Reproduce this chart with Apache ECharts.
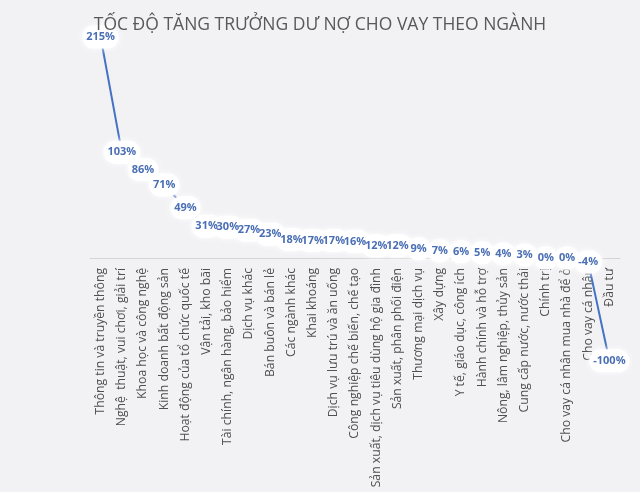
<!DOCTYPE html>
<html>
<head>
<meta charset="utf-8">
<script src="https://cdn.jsdelivr.net/npm/echarts@6/dist/echarts.min.js"></script>
<style>
  html, body { margin: 0; padding: 0; background: #f2f1f4; }
  #chart { width: 640px; height: 492px; }
</style>
</head>
<body>
<div id="chart"></div>
<script>
const nganh = [
    "Thông tin và truyền thông", "Nghệ  thuật, vui chơi, giải trí", "Khoa học và công nghệ",
    "Kinh doanh bất động sản", "Hoạt động của tổ chức quốc tế", "Vận tải, kho bãi",
    "Tài chính, ngân hàng, bảo hiểm", "Dịch vụ khác", "Bán buôn và bán lẻ",
    "Các ngành khác", "Khai khoáng", "Dịch vụ lưu trú và ăn uống",
    "Công nghiệp chế biến, chế tạo", "Sản xuất, dịch vụ tiêu dùng hộ gia đình",
    "Sản xuất, phân phối điện", "Thương mại dịch vụ", "Xây dựng",
    "Y tế, giáo dục, công ích", "Hành chính và hỗ trợ", "Nông, lâm nghiệp, thủy sản",
    "Cung cấp nước, nước thải", "Chính trị", "Cho vay cá nhân mua nhà để ở",
    "Cho vay cá nhân", "Đầu tư"
];
const tocDo = [215, 103, 86, 71, 49, 31, 30, 27, 23, 18, 17, 17, 16, 12, 12, 9, 7, 6, 5, 4, 3, 0, 0, -4, -100];

let chart = echarts.init(document.getElementById("chart"));

let nhanChung = {
    show: true,
    position: 'inside',
    formatter: '{c}%',
    fontFamily: 'Open Sans',
    fontWeight: 'bold',
    fontSize: 11
};

// truc hoanh nam o muc 0, diem am ve tran ra ngoai luoi (clip: false)
let option = {
    backgroundColor: '#f2f1f4',
    animation: false,
    title: {
        text: 'TỐC ĐỘ TĂNG TRƯỞNG DƯ NỢ CHO VAY THEO NGÀNH',
        left: 'center',
        top: 11,
        textStyle: {
            fontFamily: 'Open Sans',
            fontWeight: 'normal',
            fontSize: 17.5,
            color: '#595959'
        }
    },
    grid: {
        left: 90,
        right: 20,
        top: 37,
        bottom: 234,
        outerBoundsMode: 'none',
        containLabel: false
    },
    xAxis: {
        type: 'category',
        data: nganh,
        boundaryGap: true,
        axisLine: { onZero: false, lineStyle: { color: '#d4d4d4', width: 1 } },
        axisTick: { show: false },
        axisLabel: {
            interval: 0,
            rotate: 90,
            margin: 10,
            fontFamily: 'Open Sans',
            fontSize: 12.2,
            color: '#505050'
        }
    },
    yAxis: {
        type: 'value',
        min: 0,
        max: 215,
        show: false,
        splitLine: { show: false }
    },
    series: [{
        // duong + quang trang sau nhan
        type: 'line',
        data: tocDo,
        clip: false,
        symbol: 'circle',
        symbolSize: 1,
        itemStyle: { color: '#4472c4' },
        lineStyle: { color: '#4472c4', width: 2 },
        label: Object.assign({}, nhanChung, {
            color: 'rgba(0,0,0,0)',
            backgroundColor: '#ffffff',
            borderRadius: 12,
            padding: [6, 4],
            shadowColor: 'rgba(255,255,255,0.95)',
            shadowBlur: 6
        })
    }, {
        // chu cua nhan, ve de len tat ca quang
        type: 'line',
        data: tocDo,
        clip: false,
        z: 5,
        symbol: 'circle',
        symbolSize: 1,
        itemStyle: { color: 'rgba(0,0,0,0)' },
        lineStyle: { opacity: 0 },
        label: Object.assign({}, nhanChung, {
            color: '#4a6fb5',
            padding: [6, 4]
        })
    }]
};
chart.setOption(option);
</script>
</body>
</html>
